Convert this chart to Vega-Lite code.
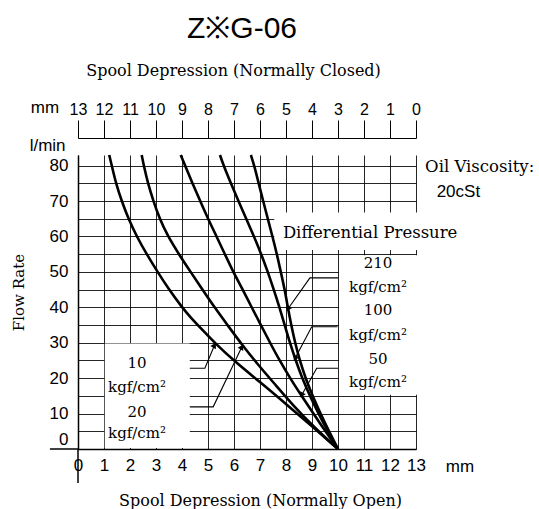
{
  "$schema": "https://vega.github.io/schema/vega-lite/v6.json",
  "width": 338,
  "height": 294,
  "autosize": {"type": "none"},
  "padding": {"left": 78, "top": 155, "right": 123, "bottom": 60},
  "background": "white",
  "title": {"text": "Z※G-06", "font": "Liberation Sans", "fontSize": 30, "fontWeight": "normal", "color": "black", "anchor": "middle", "frame": "group", "baseline": "bottom", "offset": 18, "dx": -5, "dy": 30},
  "config": {
    "view": {"stroke": null},
    "axis": {"gridColor": "#000", "gridWidth": 1, "gridOpacity": 0.85, "domainColor": "#000", "domainWidth": 1.5, "labelColor": "#000", "titleColor": "#000", "labelFont": "Liberation Sans", "labelFontSize": 17, "labelOverlap": false, "labelFlush": false, "titleFont": "DejaVu Serif", "titleFontWeight": "normal", "titleFontSize": 16}
  },
  "datasets": {
    "curves": [
      {"p": "10", "x": 1.2, "y": 83}, {"p": "10", "x": 1.3, "y": 80}, {"p": "10", "x": 1.46, "y": 75}, {"p": "10", "x": 1.68, "y": 70}, {"p": "10", "x": 1.94, "y": 65}, {"p": "10", "x": 2.26, "y": 60}, {"p": "10", "x": 2.64, "y": 55}, {"p": "10", "x": 3.06, "y": 50}, {"p": "10", "x": 3.5, "y": 45}, {"p": "10", "x": 4.0, "y": 40}, {"p": "10", "x": 4.3, "y": 37.4}, {"p": "10", "x": 4.8, "y": 33.5}, {"p": "10", "x": 5.27, "y": 29.9}, {"p": "10", "x": 6.04, "y": 24.6}, {"p": "10", "x": 7.0, "y": 18.9}, {"p": "10", "x": 8.0, "y": 12.7}, {"p": "10", "x": 9.05, "y": 6.1}, {"p": "10", "x": 10, "y": 0},
      {"p": "20", "x": 2.45, "y": 83}, {"p": "20", "x": 2.53, "y": 80}, {"p": "20", "x": 2.69, "y": 75}, {"p": "20", "x": 2.9, "y": 70}, {"p": "20", "x": 3.14, "y": 65}, {"p": "20", "x": 3.46, "y": 60}, {"p": "20", "x": 3.88, "y": 55}, {"p": "20", "x": 4.33, "y": 50}, {"p": "20", "x": 4.79, "y": 45}, {"p": "20", "x": 5.25, "y": 40}, {"p": "20", "x": 5.75, "y": 35}, {"p": "20", "x": 6.3, "y": 29.5}, {"p": "20", "x": 6.9, "y": 24}, {"p": "20", "x": 7.55, "y": 18.5}, {"p": "20", "x": 8.25, "y": 12.5}, {"p": "20", "x": 9.1, "y": 6}, {"p": "20", "x": 10, "y": 0},
      {"p": "50", "x": 3.95, "y": 83}, {"p": "50", "x": 4.12, "y": 80}, {"p": "50", "x": 4.4, "y": 75}, {"p": "50", "x": 4.7, "y": 70}, {"p": "50", "x": 5.0, "y": 65}, {"p": "50", "x": 5.33, "y": 60}, {"p": "50", "x": 5.65, "y": 55}, {"p": "50", "x": 5.97, "y": 50}, {"p": "50", "x": 6.3, "y": 45.5}, {"p": "50", "x": 6.68, "y": 40}, {"p": "50", "x": 7.0, "y": 35.5}, {"p": "50", "x": 7.35, "y": 30.5}, {"p": "50", "x": 7.75, "y": 25}, {"p": "50", "x": 8.2, "y": 19.5}, {"p": "50", "x": 8.6, "y": 15}, {"p": "50", "x": 9.3, "y": 7.3}, {"p": "50", "x": 10, "y": 0},
      {"p": "100", "x": 5.46, "y": 83}, {"p": "100", "x": 5.6, "y": 80}, {"p": "100", "x": 5.88, "y": 75}, {"p": "100", "x": 6.17, "y": 70}, {"p": "100", "x": 6.47, "y": 65}, {"p": "100", "x": 6.77, "y": 60}, {"p": "100", "x": 7.05, "y": 55}, {"p": "100", "x": 7.3, "y": 50}, {"p": "100", "x": 7.53, "y": 45}, {"p": "100", "x": 7.75, "y": 40}, {"p": "100", "x": 7.95, "y": 35}, {"p": "100", "x": 8.15, "y": 30}, {"p": "100", "x": 8.35, "y": 25.5}, {"p": "100", "x": 8.62, "y": 20}, {"p": "100", "x": 8.98, "y": 14}, {"p": "100", "x": 9.45, "y": 7}, {"p": "100", "x": 10, "y": 0},
      {"p": "210", "x": 6.65, "y": 83}, {"p": "210", "x": 6.78, "y": 80}, {"p": "210", "x": 6.95, "y": 75}, {"p": "210", "x": 7.12, "y": 70}, {"p": "210", "x": 7.3, "y": 65}, {"p": "210", "x": 7.48, "y": 60}, {"p": "210", "x": 7.65, "y": 55}, {"p": "210", "x": 7.8, "y": 50}, {"p": "210", "x": 7.95, "y": 45}, {"p": "210", "x": 8.07, "y": 40}, {"p": "210", "x": 8.2, "y": 35}, {"p": "210", "x": 8.35, "y": 30}, {"p": "210", "x": 8.53, "y": 25}, {"p": "210", "x": 8.75, "y": 20}, {"p": "210", "x": 9.05, "y": 14.5}, {"p": "210", "x": 9.45, "y": 8}, {"p": "210", "x": 10, "y": 0}
    ],
    "leaders": [
      {"leader": "10", "side": "left", "seq": 1, "x": 4.3, "y": 22.8}, {"leader": "10", "side": "left", "seq": 2, "x": 4.88, "y": 22.8}, {"leader": "10", "side": "left", "seq": 3, "x": 5.25, "y": 29.3},
      {"leader": "20", "side": "left", "seq": 1, "x": 4.3, "y": 11.9}, {"leader": "20", "side": "left", "seq": 2, "x": 5.2, "y": 11.9}, {"leader": "20", "side": "left", "seq": 3, "x": 6.3, "y": 28.8},
      {"leader": "50", "side": "right", "seq": 1, "x": 10, "y": 22.8}, {"leader": "50", "side": "right", "seq": 2, "x": 9.18, "y": 22.8}, {"leader": "50", "side": "right", "seq": 3, "x": 8.6, "y": 15.2},
      {"leader": "100", "side": "right", "seq": 1, "x": 9.98, "y": 34.5}, {"leader": "100", "side": "right", "seq": 2, "x": 8.99, "y": 34.5}, {"leader": "100", "side": "right", "seq": 3, "x": 8.35, "y": 25.6},
      {"leader": "210", "side": "right", "seq": 1, "x": 10, "y": 48.3}, {"leader": "210", "side": "right", "seq": 2, "x": 8.92, "y": 48.3}, {"leader": "210", "side": "right", "seq": 3, "x": 8.08, "y": 39.6}
    ],
    "masks": [
      {"x1": 1.03, "x2": 4.3, "y1": 0.3, "y2": 29.75},
      {"x1": 10.04, "x2": 13.2, "y1": 15.3, "y2": 54.7},
      {"x1": 7.55, "x2": 13.2, "y1": 56.2, "y2": 66.8}
    ],
    "frame": [
      {"x": 0, "x2": 0, "y": 0, "y2": -9.6},
      {"x": -1.08, "x2": 0, "y": 0, "y2": 0}
    ],
    "pressureLabels": [
      {"text": "10", "x": 2.27, "y": 24.3}, {"text": "kgf/cm²", "x": 2.27, "y": 17.6}, {"text": "20", "x": 2.27, "y": 10.5}, {"text": "kgf/cm²", "x": 2.27, "y": 4.4},
      {"text": "210", "x": 11.54, "y": 52.5}, {"text": "kgf/cm²", "x": 11.54, "y": 45.8}, {"text": "100", "x": 11.54, "y": 39.3}, {"text": "kgf/cm²", "x": 11.54, "y": 32.2}, {"text": "50", "x": 11.54, "y": 25.4}, {"text": "kgf/cm²", "x": 11.54, "y": 18.9}
    ],
    "headings": [
      {"text": "Oil Viscosity:", "x": 13.35, "y": 79.7},
      {"text": "Differential Pressure", "x": 7.88, "y": 61.0}
    ],
    "units": [
      {"text": "20cSt", "x": 14.63, "y": 72.6},
      {"text": "mm", "x": -1.27, "y": 96.3},
      {"text": "l/min", "x": -1.17, "y": 85.6},
      {"text": "mm", "x": 14.69, "y": -5.1}
    ]
  },
  "layer": [
    {
      "data": {"name": "masks"},
      "mark": {"type": "rect", "fill": "white", "stroke": null},
      "encoding": {
        "x": {"field": "x1", "type": "quantitative", "scale": {"domain": [0, 13], "nice": false, "zero": false}, "axis": null},
        "x2": {"field": "x2"},
        "y": {"field": "y1", "type": "quantitative", "scale": {"domain": [0, 83], "nice": false, "zero": false}, "axis": null},
        "y2": {"field": "y2"}
      }
    },
    {
      "data": {"name": "frame"},
      "mark": {"type": "rule", "color": "black", "strokeWidth": 1.5},
      "encoding": {
        "x": {"field": "x", "type": "quantitative", "axis": {"orient": "top", "values": [0,1,2,3,4,5,6,7,8,9,10,11,12,13], "labelExpr": "13 - datum.value", "labelFontSize": 16, "offset": 17, "ticks": true, "tickSize": 18, "tickColor": "#000", "tickWidth": 1, "labelPadding": 3, "grid": false, "domain": true, "domainWidth": 1.2, "title": "Spool Depression (Normally Closed)", "titleX": 155, "titleY": -68, "titleBaseline": "middle", "titleAlign": "center", "titleAnchor": null}},
        "x2": {"field": "x2"},
        "y": {"field": "y", "type": "quantitative", "axis": null},
        "y2": {"field": "y2"}
      }
    },
    {
      "data": {"name": "curves"},
      "mark": {"type": "line", "color": "black", "strokeWidth": 2.6, "interpolate": "basis"},
      "encoding": {
        "x": {"field": "x", "type": "quantitative", "axis": {"orient": "bottom", "values": [0,1,2,3,4,5,6,7,8,9,10,11,12,13], "ticks": false, "tickSize": 0, "labelPadding": 8, "grid": true, "domain": true, "title": "Spool Depression (Normally Open)", "titleX": 182, "titleY": 51, "titleBaseline": "middle", "titleAlign": "center", "titleAnchor": null}},
        "y": {"field": "y", "type": "quantitative", "axis": {"orient": "left", "values": [0,5,10,15,20,25,30,35,40,45,50,55,60,65,70,75,80], "labelExpr": "datum.value % 10 === 0 ? datum.label : ''", "ticks": false, "tickSize": 0, "labelPadding": 10, "labelOffset": {"condition": {"test": "datum.value === 0", "value": -10}, "value": 0}, "grid": true, "domain": true, "title": "Flow Rate", "titleFontSize": 15, "titleX": -60, "titleY": 137, "titleAngle": 270, "titleBaseline": "middle", "titleAlign": "center", "titleAnchor": null}},
        "detail": {"field": "p"}
      }
    },
    {
      "data": {"name": "leaders"},
      "mark": {"type": "line", "color": "black", "strokeWidth": 1.1},
      "encoding": {
        "x": {"field": "x", "type": "quantitative", "axis": null},
        "y": {"field": "y", "type": "quantitative", "axis": null},
        "detail": {"field": "leader"},
        "order": {"field": "seq", "type": "quantitative"}
      }
    },
    {
      "data": {"name": "leaders"},
      "transform": [{"filter": "datum.seq === 3 && datum.side === 'left'"}],
      "mark": {"type": "point", "shape": "triangle-up", "filled": true, "color": "black", "opacity": 1, "size": 40, "angle": 30},
      "encoding": {
        "x": {"field": "x", "type": "quantitative", "axis": null},
        "y": {"field": "y", "type": "quantitative", "axis": null}
      }
    },
    {
      "data": {"name": "leaders"},
      "transform": [{"filter": "datum.seq === 3 && datum.side === 'right'"}],
      "mark": {"type": "point", "shape": "triangle-up", "filled": true, "color": "black", "opacity": 1, "size": 40, "angle": 210},
      "encoding": {
        "x": {"field": "x", "type": "quantitative", "axis": null},
        "y": {"field": "y", "type": "quantitative", "axis": null}
      }
    },
    {
      "data": {"name": "pressureLabels"},
      "mark": {"type": "text", "font": "DejaVu Serif", "fontSize": 15, "color": "black", "align": "center", "baseline": "middle"},
      "encoding": {
        "x": {"field": "x", "type": "quantitative", "axis": null},
        "y": {"field": "y", "type": "quantitative", "axis": null},
        "text": {"field": "text"}
      }
    },
    {
      "data": {"name": "headings"},
      "mark": {"type": "text", "font": "DejaVu Serif", "fontSize": 16.5, "color": "black", "align": "left", "baseline": "middle"},
      "encoding": {
        "x": {"field": "x", "type": "quantitative", "axis": null},
        "y": {"field": "y", "type": "quantitative", "axis": null},
        "text": {"field": "text"}
      }
    },
    {
      "data": {"name": "units"},
      "mark": {"type": "text", "font": "Liberation Sans", "fontSize": 17, "color": "black", "align": "center", "baseline": "middle"},
      "encoding": {
        "x": {"field": "x", "type": "quantitative", "axis": null},
        "y": {"field": "y", "type": "quantitative", "axis": null},
        "text": {"field": "text"}
      }
    }
  ],
  "resolve": {"axis": {"x": "independent", "y": "independent"}}
}
